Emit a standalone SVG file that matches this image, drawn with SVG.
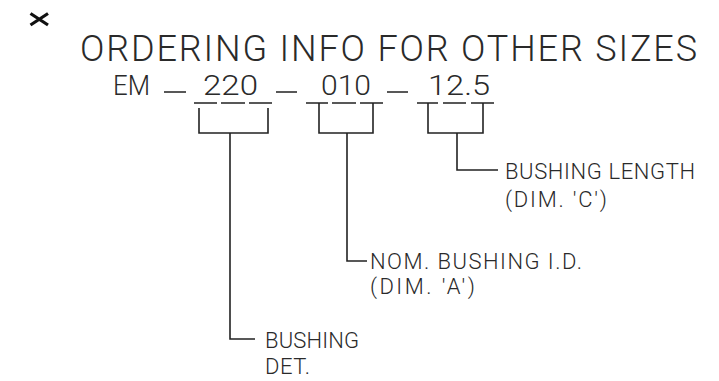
<svg xmlns="http://www.w3.org/2000/svg" width="719" height="381" viewBox="0 0 719 381">
<style>
.t{font-family:Roboto,"Liberation Sans",sans-serif;font-weight:300;fill:#2a2a2a}
.title{font-size:36px}
.code{font-size:28px}
.lbl{font-size:22px}
.ln{stroke:#222222;stroke-width:1.6;fill:none;stroke-linecap:butt}
</style>
<rect width="719" height="381" fill="#ffffff"/>
<g id="mark">
<path d="M30.5 13.5 L48 25 M30.5 25 L48 13.5" stroke="#111" stroke-width="3.2" fill="none"/>
</g>
<g id="title">
<text class="t title" x="80" y="61" textLength="617" lengthAdjust="spacing">ORDERING INFO FOR OTHER SIZES</text>
</g>
<g id="code">
<text class="t code" y="95"><tspan x="113" textLength="37" lengthAdjust="spacingAndGlyphs">EM</tspan></text>
<text class="t code" y="95"><tspan x="203" textLength="55" lengthAdjust="spacingAndGlyphs">220</tspan></text>
<text class="t code" y="95"><tspan x="321" textLength="50" lengthAdjust="spacingAndGlyphs">010</tspan></text>
<text class="t code" y="95"><tspan x="428" textLength="62" lengthAdjust="spacingAndGlyphs">12.5</tspan></text>
<path class="ln" d="M164 92H186 M276 92H297 M387 92H408"/>
</g>
<g id="connectors">
<path class="ln" d="M194 103H217 M221 103H245 M249 103H272"/>
<path class="ln" d="M306 103H328 M332 103H356 M360 103H383"/>
<path class="ln" d="M417 103H438 M443 103H466 M471 103H494"/>
<path class="ln" d="M199 108V133H268V108 M230 133V339H255"/>
<path class="ln" d="M319 103V133H373V103 M347 133V261H367"/>
<path class="ln" d="M428 103V133H483V103 M457 133V170H498"/>
</g>
<g id="label-length">
<text class="t lbl" x="505" y="179" textLength="190" lengthAdjust="spacing">BUSHING LENGTH</text>
<text class="t lbl" x="505" y="207" textLength="102" lengthAdjust="spacing">(DIM. 'C')</text>
</g>
<g id="label-id">
<text class="t lbl" x="370" y="269" textLength="212" lengthAdjust="spacing">NOM. BUSHING I.D.</text>
<text class="t lbl" x="370" y="294" textLength="105" lengthAdjust="spacing">(DIM. 'A')</text>
</g>
<g id="label-det">
<text class="t lbl" x="265" y="348" textLength="94" lengthAdjust="spacing">BUSHING</text>
<text class="t lbl" x="265" y="374" textLength="45" lengthAdjust="spacing">DET.</text>
</g>
</svg>
